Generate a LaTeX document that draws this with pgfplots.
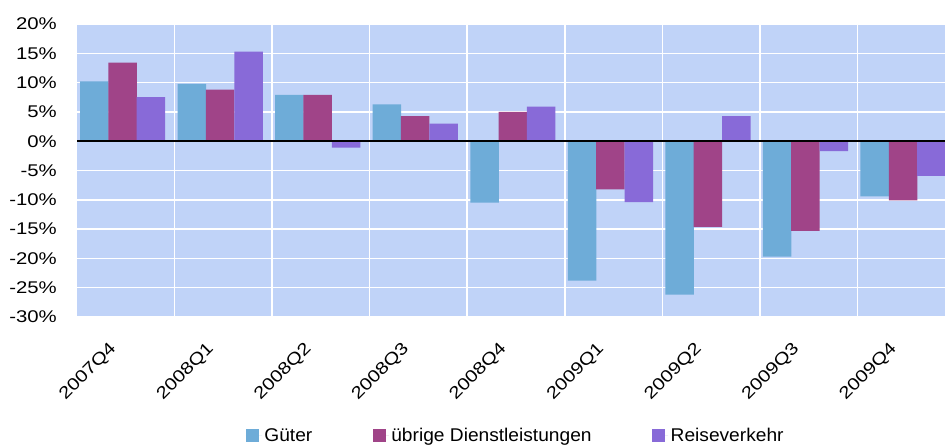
\documentclass[border=0pt]{standalone}
\usepackage{pgfplots}
\pgfplotsset{compat=1.18}
\usepackage{fontspec}
\setmainfont{Liberation Sans}
\newfontfamily\tickfont{Liberation Sans}[FakeStretch=1.2]
\newfontfamily\legfont{Liberation Sans}[FakeStretch=1.04]
\definecolor{cG}{RGB}{110,172,216}
\definecolor{cU}{RGB}{160,68,136}
\definecolor{cR}{RGB}{136,106,216}
\definecolor{bg}{RGB}{192,211,248}
\begin{document}
\begin{tikzpicture}
\useasboundingbox (0,0) rectangle (945bp,447bp);
\begin{axis}[
  at={(77bp,130bp)}, anchor=south west,
  scale only axis, width=878bp, height=293bp,
  xmin=-0.5, xmax=8.5, ymin=-30, ymax=20,
  axis line style={draw=none},
  axis background/.style={fill=bg},
  ybar=0pt, bar width=28.5bp,
  xtick={0,...,8},
  xticklabels={2007Q4,2008Q1,2008Q2,2008Q3,2008Q4,2009Q1,2009Q2,2009Q3,2009Q4},
  minor xtick={0.5,1.5,...,8.5},
  xminorgrids=true, ymajorgrids=true, xmajorgrids=false,
  major grid style={white, line width=1.5bp},
  minor grid style={white, line width=1.5bp},
  major tick length=0pt, minor tick length=0pt,
  ytick={-30,-25,...,20},
  yticklabels={-30\%,-25\%,-20\%,-15\%,-10\%,-5\%,0\%,5\%,10\%,15\%,20\%},
  tick label style={font=\tickfont\fontsize{17}{20}\selectfont},
  yticklabel style={anchor=east, inner sep=0pt, xshift=-20bp},
  xticklabel style={xshift=-12bp, yshift=-29bp, rotate=45, anchor=east, inner sep=0pt},
  legend columns=3,
  legend style={at={(0.5,-0.406)}, anchor=center, draw=none, fill=none,
    font=\legfont\fontsize{18.5}{20}\selectfont,
    /tikz/every even column/.append style={column sep=58bp},
    nodes={inner sep=2.5bp}},
  legend image code/.code={\fill[#1] (0bp,-6.5bp) rectangle (13bp,6.5bp); \path (0bp,0bp) -- (16bp,0bp);},
]
\addplot[fill=cG, draw=none, bar shift=-31.5bp] coordinates {(0,10.2) (1,9.8) (2,7.9) (3,6.3) (4,-10.5) (5,-23.8) (6,-26.2) (7,-19.7) (8,-9.4)};
\addplot[fill=cU, draw=none, bar shift=-3.2bp] coordinates {(0,13.4) (1,8.8) (2,7.9) (3,4.3) (4,5.0) (5,-8.2) (6,-14.6) (7,-15.3) (8,-10.1)};
\addplot[fill=cR, draw=none, bar shift=25.2bp] coordinates {(0,7.5) (1,15.3) (2,-1.1) (3,3.0) (4,5.9) (5,-10.4) (6,4.3) (7,-1.7) (8,-5.9)};
\addlegendentry{Güter}
\addlegendentry{übrige Dienstleistungen\hspace{15bp}}
\addlegendentry{Reiseverkehr}
\draw[black, line width=1.6bp] (axis cs:-0.52,0) -- (axis cs:8.5,0);
\end{axis}
\end{tikzpicture}
\end{document}
